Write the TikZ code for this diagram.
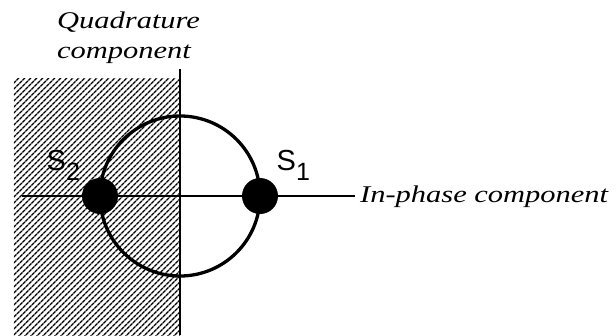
\documentclass[tikz,border=0pt]{standalone}
\usepackage{fontspec}
\setmainfont{Liberation Serif}
\newfontfamily\axisfont[FakeStretch=1.27]{Liberation Serif}
\newfontfamily\sigfont{Liberation Sans}
\usetikzlibrary{patterns.meta}

\tikzset{
  axislabel/.style={font=\axisfont\itshape\fontsize{24}{30}\selectfont, inner sep=0pt},
  signal/.style={circle, fill=black, minimum size=36pt, inner sep=0pt},
  siglabel/.style={font=\sigfont\fontsize{29}{29}\selectfont, inner sep=0pt, anchor=base west},
}
\newcommand{\sigsub}[1]{\raisebox{-10pt}{\fontsize{25}{25}\selectfont #1}}

\begin{document}
\begin{tikzpicture}[x=1pt, y=1pt]
  \useasboundingbox (-180,-139) rectangle (436,196);
  % hatched half plane
  \fill[pattern={Lines[angle=45, distance=4pt, line width=1.4pt]}] (-166,-139) rectangle (0,118);
  % axes
  \coordinate (qbot) at (0,-139);
  \coordinate (qtop) at (0,127);
  \coordinate (ileft) at (-158,0);
  \draw[line width=1.2pt] (qbot) -- (qtop);
  \node[axislabel, anchor=base west] (ilab) at (180,-6) {In-phase component};
  \draw[line width=1.2pt] (ileft) -- ([xshift=-5pt]ilab.west |- ileft);
  \node[axislabel, align=left, anchor=base west] (qlab) at (-123,138) {Quadrature\\component};
  % signal circle and points
  \draw[line width=3.3pt] (0,0) circle (80pt);
  \foreach \n/\x in {s1/80, s2/-80}
    \node[signal] (\n) at (\x,0) {};
  \node[siglabel] (s1lab) at (96.5,26) {S\sigsub{1}};
  \node[siglabel] (s2lab) at (-133.5,26) {S\sigsub{2}};
\end{tikzpicture}
\end{document}
